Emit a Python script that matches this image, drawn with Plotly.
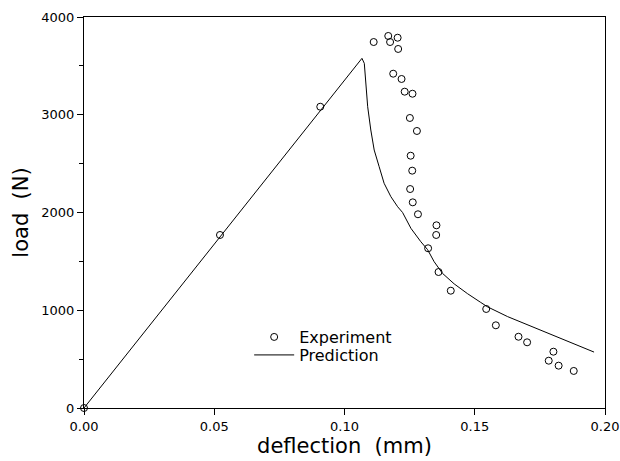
import plotly.graph_objects as go

# Experiment (measured) points: deflection (mm), load (N)
exp_defl = [0.0, 0.0522, 0.0907, 0.1112, 0.1168, 0.1175, 0.1204, 0.1206, 0.1187,
            0.1219, 0.1231, 0.1261, 0.1251, 0.1278, 0.1254, 0.1260, 0.1252, 0.1262,
            0.1282, 0.1353, 0.1352, 0.1321, 0.1361, 0.1408, 0.1544, 0.1581, 0.1668,
            0.1701, 0.1802, 0.1784, 0.1822, 0.1880]
exp_load = [0, 1770, 3082, 3744, 3806, 3744, 3788, 3673, 3420,
            3366, 3236, 3215, 2967, 2834, 2581, 2428, 2240, 2104,
            1982, 1869, 1770, 1634, 1391, 1200, 1013, 846, 729,
            672, 576, 484, 433, 379]

# Prediction curve
pred_defl = [0.0, 0.1067, 0.1076, 0.1082, 0.1089, 0.1101, 0.1114, 0.1133, 0.1152,
             0.1178, 0.1204, 0.1223, 0.1255, 0.1293, 0.1319, 0.1344, 0.1376, 0.1421,
             0.1472, 0.1523, 0.1549, 0.1626, 0.1703, 0.1754, 0.1830, 0.1907, 0.1958]
pred_load = [0, 3577, 3526, 3287, 3082, 2844, 2639, 2469, 2299,
             2162, 2059, 2000, 1838, 1701, 1620, 1497, 1378, 1270,
             1170, 1080, 1035, 935, 850, 795, 710, 628, 572]

x_ticks = [0.0, 0.05, 0.10, 0.15, 0.20]
x_labels = ["0.00", "0.05", "0.10", "0.15", "0.20"]
y_ticks = [0, 1000, 2000, 3000, 4000]

FONT = "DejaVu Sans"

fig = go.Figure()
fig.add_trace(go.Scatter(
    x=exp_defl, y=exp_load, mode="markers", name="Experiment",
    marker=dict(symbol="circle-open", size=7, color="black", line=dict(width=1, color="black")),
    cliponaxis=False, legend="legend",
))
fig.add_trace(go.Scatter(
    x=pred_defl, y=pred_load, mode="lines", name="Prediction",
    line=dict(color="black", width=1), legend="legend2",
))

axis_common = dict(
    showgrid=False, zeroline=False, showline=True, linecolor="black", linewidth=1.3,
    mirror=True, ticks="outside", ticklen=6, tickcolor="black", tickwidth=1,
    tickfont=dict(family=FONT, size=13, color="black"), automargin=False,
)

fig.update_xaxes(
    range=[0, 0.2], tickvals=x_ticks, ticktext=x_labels,
    title=dict(text="deflection  (mm)", font=dict(family=FONT, size=21, color="black"), standoff=4),
    **axis_common,
)
fig.update_yaxes(
    range=[0, 4000], tickvals=y_ticks,
    minor=dict(dtick=500, ticklen=4, ticks="outside", tickcolor="black"),
    title=dict(text="load  (N)", font=dict(family=FONT, size=21, color="black"), standoff=6),
    **axis_common,
)

legend_style = dict(
    xanchor="left", yanchor="top",
    bgcolor="rgba(0,0,0,0)", borderwidth=0,
    font=dict(family=FONT, size=16, color="black"),
    itemwidth=40,
)

fig.update_layout(
    width=620, height=461,
    margin=dict(l=84, r=15, t=17, b=53, autoexpand=False),
    paper_bgcolor="white", plot_bgcolor="white",
    showlegend=True,
    legend=dict(x=0.317, y=0.225, **legend_style),
    legend2=dict(x=0.317, y=0.179, **legend_style),
)

fig.write_html("out.html")
